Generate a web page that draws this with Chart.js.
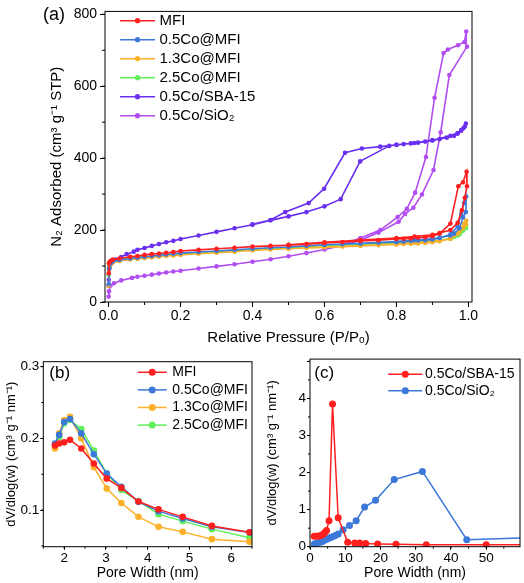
<!DOCTYPE html>
<html>
<head>
<meta charset="utf-8">
<script src="https://cdn.jsdelivr.net/npm/chart.js@4.4.1/dist/chart.umd.min.js"></script>
<style>
  body { margin: 0; background: #fff; width: 524px; height: 583px; position: relative; overflow: hidden; }
  canvas { position: absolute; }
  #ca { left: 0; top: 0; }
  #cb { left: 0; top: 350px; }
  #cc { left: 262px; top: 350px; }
</style>
</head>
<body>
<canvas id="ca" width="524" height="350"></canvas>
<canvas id="cb" width="262" height="233"></canvas>
<canvas id="cc" width="262" height="233"></canvas>
<script>
// (a) N2 isotherms: relative pressure and adsorbed volume, adsorption then desorption
const mfiP = [0.0003,0.001,0.003,0.007,0.012,0.03,0.06,0.08,0.1,0.12,0.14,0.16,0.18,0.2,0.25,0.3,0.35,0.4,0.45,0.5,0.55,0.6,0.65,0.7,0.75,0.8,0.82,0.84,0.86,0.88,0.9,0.92,0.95,0.972,0.985,0.995,0.996,0.99,0.982,0.97,0.95,0.92,0.9,0.85,0.8,0.7,0.6,0.5];
const mfiV = [80,108,112,115,118,121,126,128,131,133,135,137,139,142,145,148,151,154,156,158,161,164,167,170,172,175,176,177,179,180,183,190,218,322,333,362,322,290,255,220,200,192,187,182,178,172,166,159];

const co05P = [0.0003,0.001,0.003,0.007,0.012,0.03,0.06,0.08,0.1,0.12,0.14,0.16,0.18,0.2,0.25,0.3,0.35,0.4,0.45,0.5,0.55,0.6,0.65,0.7,0.75,0.8,0.82,0.84,0.86,0.88,0.9,0.92,0.95,0.97,0.98,0.988,0.994,0.993,0.985,0.975,0.96,0.95,0.92,0.9,0.85,0.8,0.7,0.6,0.5];
const co05V = [50,92,104,110,113,117,121,123,126,128,130,132,134,136,139,142,145,148,151,153,156,159,161,163,165,167,168,170,171,172,174,178,188,210,245,275,293,250,235,205,190,185,179,176,172,168,163,159,153];

const co13P = co05P;
const co13V = [45,88,100,106,110,114,118,120,122,124,126,128,129,131,134,137,140,143,146,148,150,152,154,156,158,160,161,162,163,164,166,169,176,190,205,218,226,215,205,195,185,176,170,168,165,161,157,153,148];

const co25P = co05P;
const co25V = [75,98,106,110,113,117,121,123,125,127,129,131,133,135,137,140,143,146,149,151,154,157,159,161,163,164,165,166,167,168,169,171,177,185,195,205,214,205,198,188,181,176,172,170,167,164,160,157,151];

const sbaP = [0.0001,0.0005,0.001,0.003,0.006,0.01,0.02,0.035,0.05,0.07,0.08,0.1,0.12,0.14,0.16,0.18,0.2,0.25,0.3,0.35,0.4,0.45,0.5,0.55,0.6,0.645,0.699,0.78,0.8,0.82,0.84,0.86,0.88,0.9,0.92,0.94,0.96,0.97,0.98,0.986,0.993,0.99,0.98,0.97,0.95,0.9,0.85,0.8,0.755,0.704,0.657,0.599,0.556,0.491,0.45,0.4];
const sbaV = [45,62,78,95,105,112,118,125,133,140,145,150,156,161,166,170,175,185,195,205,215,227,238,250,266,286,391,434,437,439,441,443,446,449,453,457,462,468,476,483,496,488,478,470,462,450,442,437,432,427,415,315,275,250,228,216];

const sioP = [0.0001,0.001,0.005,0.015,0.035,0.065,0.08,0.1,0.12,0.14,0.16,0.18,0.2,0.25,0.3,0.35,0.4,0.45,0.5,0.55,0.6,0.65,0.7,0.75,0.806,0.824,0.847,0.871,0.903,0.923,0.947,0.996,0.994,0.989,0.971,0.943,0.931,0.906,0.882,0.852,0.829,0.803,0.755,0.7,0.65];
const sioV = [15,30,45,52,60,67,70,73,76,79,82,85,87,93,99,105,112,119,127,136,146,157,172,193,223,245,262,299,367,472,631,710,752,723,714,702,692,568,403,304,259,236,200,178,160];

// (b) pore size distribution of the MFI samples
const poreB = [1.78,1.88,2.0,2.14,2.41,2.71,3.02,3.37,3.78,4.26,4.84,5.54,6.44];
const psdMFI = [0.190,0.193,0.1945,0.198,0.186,0.165,0.144,0.131,0.112,0.101,0.0906,0.078,0.069];
const psd05 = [0.193,0.205,0.223,0.227,0.207,0.178,0.151,0.1325,0.1116,0.0986,0.0884,0.0767,0.0689];
const psd13 = [0.186,0.207,0.2256,0.230,0.200,0.160,0.130,0.110,0.0906,0.0767,0.0697,0.0595,0.0558];
const psd25 = [0.1907,0.202,0.221,0.2256,0.213,0.183,0.151,0.128,0.1125,0.0944,0.0847,0.0735,0.0614];

// (c) pore size distribution of SBA-15 and SiO2
const poreSBA = [1.2,1.9,2.5,3.1,3.6,4.2,4.7,5.4,6.4,8.0,10.7,12.7,14.1,15.8,19.2,24.4,33,50,70];
const psdSBA = [0.28,0.28,0.29,0.30,0.33,0.38,0.44,0.70,3.85,0.78,0.12,0.10,0.10,0.085,0.075,0.065,0.055,0.05,0.05];
const poreSiO2 = [1.2,1.9,2.5,3.1,3.6,4.2,4.7,5.2,5.8,6.4,7.2,8.0,9.4,11.2,13.1,15.5,18.6,23.9,31.9,44.5,70];
const psdSiO2 = [0.07,0.09,0.11,0.13,0.15,0.18,0.20,0.22,0.25,0.27,0.30,0.34,0.46,0.57,0.70,1.07,1.25,1.81,2.03,0.19,0.265];

Chart.defaults.font.family = "'Liberation Sans', Arial, Helvetica, sans-serif";
Chart.defaults.color = '#000';
Chart.defaults.animation = false;

const red = '#ff1f1f', blue = '#3b78d9', orange = '#fbb02a', green = '#5ff05a', indigo = '#6b2ff0', violet = '#b24df2';

function pts(xs, ys) {
  return xs.map((x, i) => ({ x: x, y: ys[i] }));
}

function series(label, xs, ys, color, r, w) {
  return {
    label: label, data: pts(xs, ys),
    borderColor: color, backgroundColor: color,
    pointBackgroundColor: color, pointBorderColor: color,
    pointRadius: r, pointBorderWidth: 0, borderWidth: w, tension: 0
  };
}

function scale(o) {
  return {
    type: 'linear', position: o.pos, min: o.min, max: o.max,
    border: { display: false },
    grid: { drawOnChartArea: false, drawTicks: true, tickLength: o.tl, tickColor: '#000', tickWidth: 1 },
    ticks: { autoSkip: false, maxRotation: 0, padding: o.pad, font: { size: o.fs }, callback: o.cb },
    title: { display: true, text: o.title, font: { size: o.ts }, padding: { top: 0, bottom: o.tp } },
    // major ticks on round multiples of the step only
    afterBuildTicks: s => {
      const t = [];
      for (let k = Math.ceil(o.min / o.step - 1e-9); k * o.step <= o.max + 1e-9; k++) {
        t.push({ value: +(k * o.step).toFixed(6) });
      }
      s.ticks = t;
    },
    afterFit: o.pos === 'left' ? s => { s.width = o.size; } : s => { s.height = o.size; }
  };
}

// box around the plot plus small minor ticks
const frame = {
  id: 'frame',
  afterDatasetsDraw(chart, args, o) {
    const { ctx, chartArea: a, scales } = chart;
    ctx.save();
    ctx.strokeStyle = '#000';
    ctx.lineWidth = 1;
    ctx.strokeRect(a.left, a.top, a.right - a.left, a.bottom - a.top);
    ctx.beginPath();
    const x = scales.x, y = scales.y;
    for (let k = Math.ceil(x.min / o.xm); k * o.xm <= x.max; k++) {
      const px = x.getPixelForValue(k * o.xm);
      ctx.moveTo(px, a.bottom); ctx.lineTo(px, a.bottom + o.len);
    }
    for (let k = Math.ceil(y.min / o.ym); k * o.ym <= y.max; k++) {
      const py = y.getPixelForValue(k * o.ym);
      ctx.moveTo(a.left, py); ctx.lineTo(a.left - o.len, py);
    }
    ctx.stroke();
    ctx.restore();
  }
};

// legend drawn inside the plot, Origin style, and the panel letter
const insideLegend = {
  id: 'insideLegend',
  afterDraw(chart, args, o) {
    const ctx = chart.ctx;
    ctx.save();
    ctx.textBaseline = 'middle';
    ctx.font = o.size + "px 'Liberation Sans', Arial, sans-serif";
    chart.data.datasets.forEach((ds, i) => {
      const y = o.y + i * o.dy;
      ctx.strokeStyle = ds.borderColor;
      ctx.lineWidth = ds.borderWidth;
      ctx.beginPath(); ctx.moveTo(o.x0, y); ctx.lineTo(o.x1, y); ctx.stroke();
      ctx.fillStyle = ds.borderColor;
      ctx.beginPath(); ctx.arc((o.x0 + o.x1) / 2, y, o.r, 0, Math.PI * 2); ctx.fill();
      ctx.fillStyle = '#000';
      ctx.fillText(ds.label, o.tx, y);
    });
    ctx.font = o.tagSize + "px 'Liberation Sans', Arial, sans-serif";
    ctx.fillText(o.tag, o.tagX, o.tagY);
    ctx.restore();
  }
};

const yTitle = 'dV/dlog(w) (cm³ g⁻¹ nm⁻¹)';

new Chart(document.getElementById('ca'), {
  type: 'line',
  data: {
    datasets: [
      series('MFI', mfiP, mfiV, red, 2.3, 1.6),
      series('0.5Co@MFI', co05P, co05V, blue, 2.3, 1.6),
      series('1.3Co@MFI', co13P, co13V, orange, 2.3, 1.6),
      series('2.5Co@MFI', co25P, co25V, green, 2.3, 1.6),
      series('0.5Co/SBA-15', sbaP, sbaV, indigo, 2.3, 1.6),
      series('0.5Co/SiO₂', sioP, sioV, violet, 2.3, 1.6)
    ]
  },
  options: {
    responsive: false,
    events: [],
    layout: { padding: { left: 48, right: 52, top: 4, bottom: 0 } },
    plugins: {
      legend: { display: false },
      tooltip: { enabled: false },
      frame: { xm: 0.1, ym: 100, len: 3 },
      insideLegend: { x0: 120, x1: 155, tx: 159.5, y: 20.7, dy: 19, size: 15, r: 2.6, tag: '(a)', tagX: 43, tagY: 15, tagSize: 18 }
    },
    scales: {
      x: scale({ pos: 'bottom', min: -0.01, max: 1.01, step: 0.2, cb: v => v.toFixed(1), fs: 14, tl: 5, pad: 1, title: 'Relative Pressure (P/Pₒ)', ts: 15, tp: 3, size: 48 }),
      y: scale({ pos: 'left', min: 0, max: 808, step: 200, cb: v => v, fs: 14, tl: 5, pad: 3, title: 'N₂ Adsorbed (cm³ g⁻¹ STP)', ts: 15, tp: 0, size: 57 })
    }
  },
  plugins: [frame, insideLegend]
});

new Chart(document.getElementById('cb'), {
  type: 'line',
  data: {
    datasets: [
      series('MFI', poreB, psdMFI, red, 3.3, 1.5),
      series('0.5Co@MFI', poreB, psd05, blue, 3.3, 1.5),
      series('1.3Co@MFI', poreB, psd13, orange, 3.3, 1.5),
      series('2.5Co@MFI', poreB, psd25, green, 3.3, 1.5)
    ]
  },
  options: {
    responsive: false,
    events: [],
    layout: { padding: { left: 4, right: 10, top: 11.7, bottom: 0 } },
    plugins: {
      legend: { display: false },
      tooltip: { enabled: false },
      frame: { xm: 0.5, ym: 0.05, len: 2 },
      insideLegend: { x0: 137.7, x1: 166.7, tx: 172.3, y: 22.3, dy: 17.6, size: 14, r: 3.5, tag: '(b)', tagX: 49.3, tagY: 23, tagSize: 17 }
    },
    scales: {
      x: scale({ pos: 'bottom', min: 1.5, max: 6.5, step: 1, cb: v => v, fs: 13.5, tl: 3, pad: 0.5, title: 'Pore Width (nm)', ts: 14, tp: 1.3, size: 36.3 }),
      y: scale({ pos: 'left', min: 0.049, max: 0.307, step: 0.1, cb: v => v.toFixed(1), fs: 13.5, tl: 3, pad: 1, title: yTitle, ts: 13, tp: 0, size: 39.3 })
    }
  },
  plugins: [frame, insideLegend]
});

new Chart(document.getElementById('cc'), {
  type: 'line',
  data: {
    datasets: [
      series('0.5Co/SBA-15', poreSBA, psdSBA, red, 3.5, 1.5),
      series('0.5Co/SiO₂', poreSiO2, psdSiO2, blue, 3.5, 1.5)
    ]
  },
  options: {
    responsive: false,
    events: [],
    layout: { padding: { left: 2.7, right: 2, top: 4, bottom: 0 } },
    plugins: {
      legend: { display: false },
      tooltip: { enabled: false },
      frame: { xm: 5, ym: 0.5, len: 2 },
      insideLegend: { x0: 126.3, x1: 160.3, tx: 163, y: 24.3, dy: 16.4, size: 14, r: 3.5, tag: '(c)', tagX: 52.3, tagY: 23, tagSize: 17 }
    },
    scales: {
      x: scale({ pos: 'bottom', min: 0, max: 59.6, step: 10, cb: v => v, fs: 13.5, tl: 3, pad: 0.5, title: 'Pore Width (nm)', ts: 14, tp: 1.3, size: 36.3 }),
      y: scale({ pos: 'left', min: 0, max: 5.06, step: 1, cb: v => (v === 5 ? '' : v), fs: 13.5, tl: 3, pad: 1, title: yTitle, ts: 13, tp: 0, size: 45.3 })
    }
  },
  plugins: [frame, insideLegend]
});
</script>
</body>
</html>
